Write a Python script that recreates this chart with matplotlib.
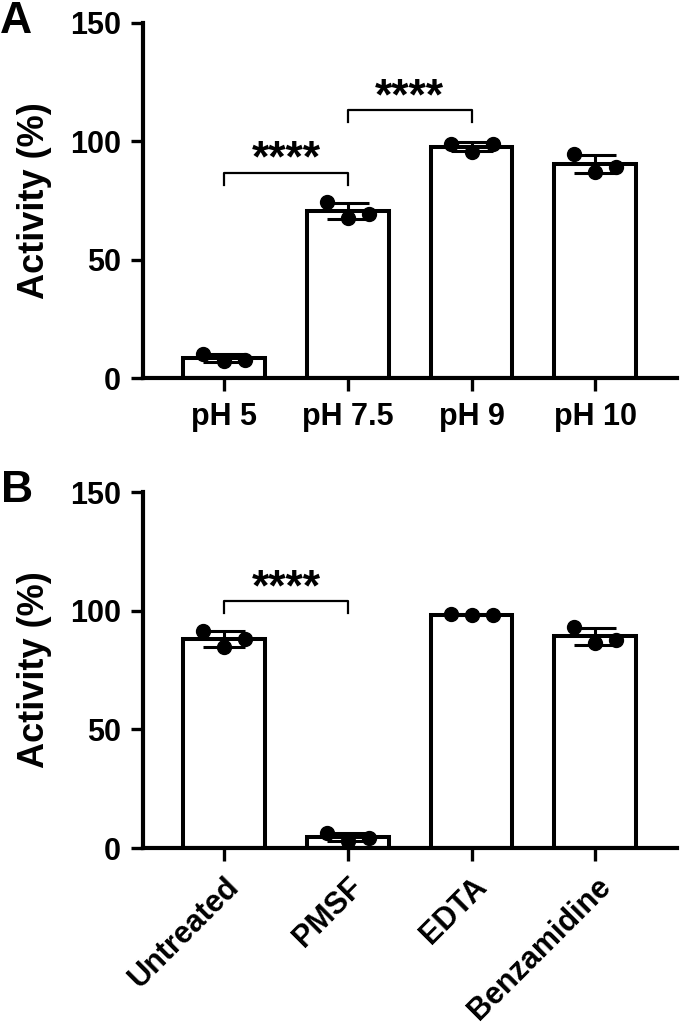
import numpy as np
from matplotlib import pyplot as plt
from matplotlib import transforms

plt.rcParams['font.family'] = ['Liberation Sans', 'DejaVu Sans']
plt.rcParams['font.weight'] = 'bold'

# panel A: pH
ph_labels = ['pH 5', 'pH 7.5', 'pH 9', 'pH 10']
ph_reps = [
    [10.2, 7.0, 7.6],
    [74.5, 67.8, 69.3],
    [99.0, 95.6, 98.8],
    [94.6, 87.2, 89.3],
]
# significance brackets: (i, j, y, label)
ph_sig = [(0, 1, 86.6, '****'), (1, 2, 113.2, '****')]

# panel B: inhibitors
inh_labels = ['Untreated', 'PMSF', 'EDTA', 'Benzamidine']
inh_reps = [
    [91.4, 84.8, 88.0],
    [6.3, 3.1, 4.3],
    [98.4, 98.2, 98.3],
    [93.1, 86.5, 87.8],
]
inh_sig = [(0, 1, 104.0, '****')]

jitter = [-0.17, 0.0, 0.17]

fig = plt.figure(figsize=(6.8, 10.24), dpi=100)
axA = fig.add_axes([143/680, 1-378/1024, 534/680, 355/1024])
axB = fig.add_axes([143/680, 1-848/1024, 534/680, 356/1024])


def draw(ax, labels, reps, sig, rotate):
    reps = np.array(reps)
    x = np.arange(len(labels))
    means = reps.mean(axis=1)
    sds = reps.std(axis=1, ddof=1)
    ax.bar(x, means, width=0.66, color='white', edgecolor='black',
           linewidth=2.9, zorder=2)
    ax.errorbar(x, means, yerr=sds, fmt='none', ecolor='black',
                elinewidth=2.2, capsize=15, capthick=2.2, zorder=3)
    for k, off in enumerate(jitter):
        ax.plot(x + off, reps[:, k], 'o', color='black', markersize=10,
                zorder=4, clip_on=False)
    for i, j, y, txt in sig:
        ax.plot([i, i, j, j], [y - 5, y, y, y - 5], color='black',
                linewidth=1.6, zorder=3)
        ax.text((i + j) / 2, y + 0.5, txt, ha='center', va='baseline',
                fontsize=32, fontweight='bold')
    ax.set_xlim(-0.655, 3.66)
    ax.set_ylim(0, 150)
    ax.set_yticks([0, 50, 100, 150])
    ax.set_xticks(x)
    if rotate:
        ax.set_xticklabels(labels, rotation=45, ha='right',
                           rotation_mode='anchor')
        shift = transforms.ScaledTranslation(14/100, -4/100, fig.dpi_scale_trans)
        for lab in ax.get_xticklabels():
            lab.set_transform(lab.get_transform() + shift)
    else:
        ax.set_xticklabels(labels)
    for s in ['top', 'right']:
        ax.spines[s].set_visible(False)
    for s in ['left', 'bottom']:
        ax.spines[s].set_linewidth(3)
    ax.tick_params(axis='both', labelsize=22, width=2.4, length=9)
    ax.tick_params(axis='y', pad=7)
    ax.tick_params(axis='x', pad=8)
    for lab in ax.get_xticklabels() + ax.get_yticklabels():
        lab.set_fontweight('bold')
    ax.set_ylabel('Activity (%)', fontsize=26, fontweight='bold')
    ax.yaxis.set_label_coords(-0.17, 0.5)


draw(axA, ph_labels, ph_reps, ph_sig, False)
draw(axB, inh_labels, inh_reps, inh_sig, True)

fig.text(0.0, 1 - 33/1024, 'A', fontsize=32, fontweight='bold', va='baseline')
fig.text(0.002, 1 - 502/1024, 'B', fontsize=32, fontweight='bold', va='baseline')

fig.savefig('out.png', dpi=100)
